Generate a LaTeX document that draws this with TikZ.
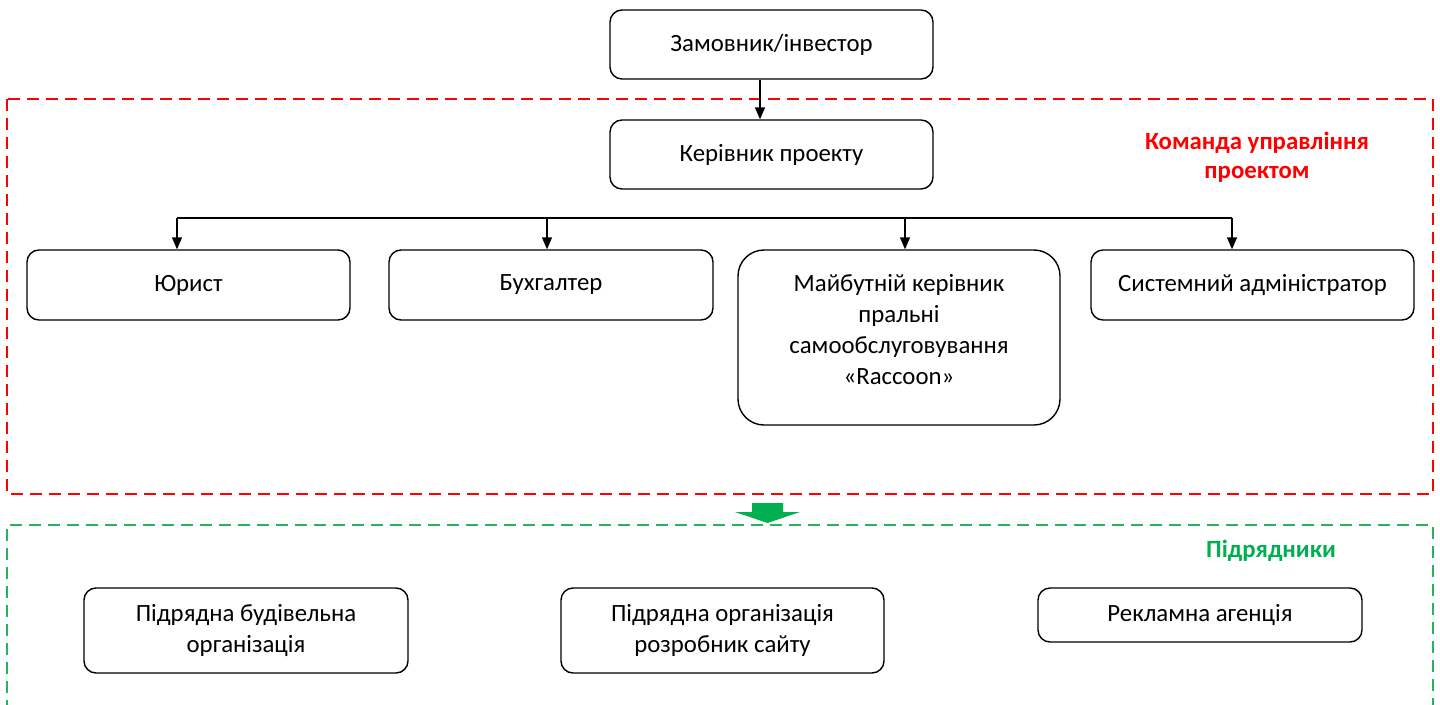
\documentclass[tikz,border=0pt]{standalone}
\usepackage{fontspec}
\setmainfont{Carlito}
\usetikzlibrary{arrows.meta}
\definecolor{rred}{RGB}{255,0,0}
\definecolor{ggreen}{RGB}{0,176,80}
\definecolor{gdash}{RGB}{40,180,90}
\begin{document}
\begin{tikzpicture}[x=1pt,y=-1pt,
  box/.style={draw=black, line width=1.4pt, rounded corners=12pt, font=\fontsize{24.8}{31}\selectfont, align=center, inner sep=0pt},
  arr/.style={line width=1.4pt, -{Triangle[width=10pt,length=12pt]}},
  ttl/.style={font=\bfseries\fontsize{24.8}{29}\selectfont, align=center}]
\useasboundingbox (0,0) rectangle (1440,704);
% frames
\draw[rred, line width=1.5pt, dash pattern=on 12pt off 7pt] (7,99) rectangle (1433,494);
\draw[gdash, line width=1.5pt, dash pattern=on 12pt off 7pt] (7,712) -- (7,525) -- (1433,525) -- (1433,712);
% top nodes
\node[box, minimum width=323pt, minimum height=69pt] (zam) at (771.5,44.5) {Замовник/інвестор};
\node[box, minimum width=323pt, minimum height=69pt] (ker) at (771.5,154.5) {Керівник проекту};
\node[box, minimum width=323pt, minimum height=70pt] (jur) at (188.5,285) {Юрист};
\node[box, minimum width=324pt, minimum height=70pt] (buh) at (551,285) {Бухгалтер};
\node[box, minimum width=322pt, minimum height=175pt, rounded corners=26pt] (maj) at (899,337.5) {};
\node[font=\fontsize{24.8}{31}\selectfont, align=center, inner sep=0pt] (majt) at ([yshift=8pt]maj.center) {Майбутній керівник\\пральні\\самообслуговування\\«Raccoon»};
\node[box, minimum width=323pt, minimum height=70pt] (sys) at (1252.5,285) {Системний адміністратор};
% titles
\node[ttl, text=rred] (t1) at (1257,157) {Команда управління\\проектом};
\node[ttl, text=ggreen] (t2) at (1271,551) {Підрядники};
% bottom nodes
\node[box, minimum width=324pt, minimum height=85pt] (bud) at (246,630.5) {Підрядна будівельна\\організація};
\node[box, minimum width=323pt, minimum height=85pt] (sait) at (722.5,630.5) {Підрядна організація\\розробник сайту};
\node[box, minimum width=324pt, minimum height=54pt] (rek) at (1200,615) {Рекламна агенція};
% connectors
\coordinate (zb) at (760,79.5);
\draw[arr] (zb) -- (zb |- ker.north);
\coordinate (bL) at (177,218);
\coordinate (bR) at (1232,218);
\coordinate (b2) at (547,218);
\coordinate (b3) at (905,218);
\draw[line width=1.4pt] (bL) -- (bR);
\draw[arr] (bL) -- (bL |- jur.north);
\draw[arr] (b2) -- (b2 |- buh.north);
\draw[arr] (b3) -- (b3 |- maj.north);
\draw[arr] (bR) -- (bR |- sys.north);
% green block arrow
\fill[ggreen] (752,503) -- (783,503) -- (783,512) -- (800,512) -- (767.5,523) -- (735,512) -- (752,512) -- cycle;
\end{tikzpicture}
\end{document}
